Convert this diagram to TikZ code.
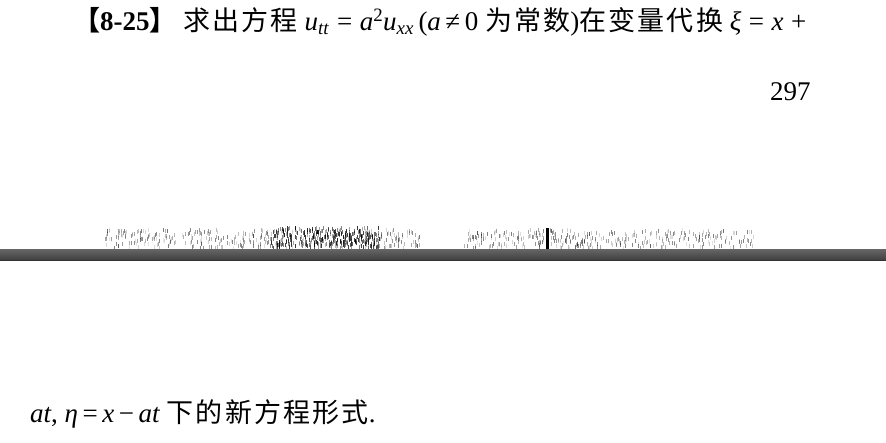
\documentclass[tikz,border=0pt]{standalone}
\usepackage{amsmath}
\usepackage{fontspec}
\setmainfont{Liberation Serif}
\newfontfamily\cjk[LetterSpace=8]{Noto Sans CJK SC}
\usetikzlibrary{positioning}

% italic letter as printed in the scan
\newcommand{\vr}[1]{\textit{#1}}

\begin{document}
\begin{tikzpicture}[x=1pt, y=-1pt,
		txt/.style={inner sep=0pt, anchor=west, font=\fontsize{27}{31}\selectfont},
		speck/.style={fill=black, draw=none}]
		% Page area
		\useasboundingbox (0,0) rectangle (886,442);
		\fill[white] (0,0) rectangle (886,442);

		% First line of the exercise
		\node[txt] (title) at (73,22) {{\bfseries{\cjk 【}8-25{\cjk 】}}\ {\cjk 求出方程}\ \vr{u}\textsubscript{\vr{tt}}\;=\;\vr{a}\textsuperscript{2}\vr{u}\textsubscript{\vr{xx}}\,(\vr{a}\,≠\,0\ {\cjk 为常数}){\cjk 在变量代换}\ \vr{ξ}\;=\;\vr{x}\;+};

		% Page number
		\node[txt] (pagenum) at (770,92) {297};

		% Scan noise above the rule
		\pgfmathsetseed{25}
		\foreach \i in {1,...,400}{
			\pgfmathsetmacro{\nx}{105+rnd*315}
			\pgfmathsetmacro{\ny}{228+rnd*18}
			\pgfmathsetmacro{\op}{0.1+0.4*rnd}
			\fill[speck, opacity=\op] (\nx,\ny) rectangle ++(1,4);
		}
		\foreach \i in {1,...,300}{
			\pgfmathsetmacro{\nx}{270+rnd*110}
			\pgfmathsetmacro{\ny}{226+rnd*20}
			\pgfmathsetmacro{\op}{0.3+0.5*rnd}
			\fill[speck, opacity=\op] (\nx,\ny) rectangle ++(1,4);
		}
		\foreach \i in {1,...,350}{
			\pgfmathsetmacro{\nx}{463+rnd*290}
			\pgfmathsetmacro{\ny}{228+rnd*18}
			\pgfmathsetmacro{\op}{0.1+0.4*rnd}
			\fill[speck, opacity=\op] (\nx,\ny) rectangle ++(1,4);
		}
		\fill[speck] (546,228) rectangle (549,250);

		% Rule across the page
		\shade[top color=black!60, bottom color=black!75] (0,249) rectangle (886,260);
		\draw[black!80] (0,260) -- (886,260);

		% Second line of the exercise
		\node[txt] (tail) at (30,414) {\vr{at}, \vr{η}\,=\,\vr{x}\,−\,\vr{at}\ {\cjk 下的新方程形式}.};
	\end{tikzpicture}
\end{document}
